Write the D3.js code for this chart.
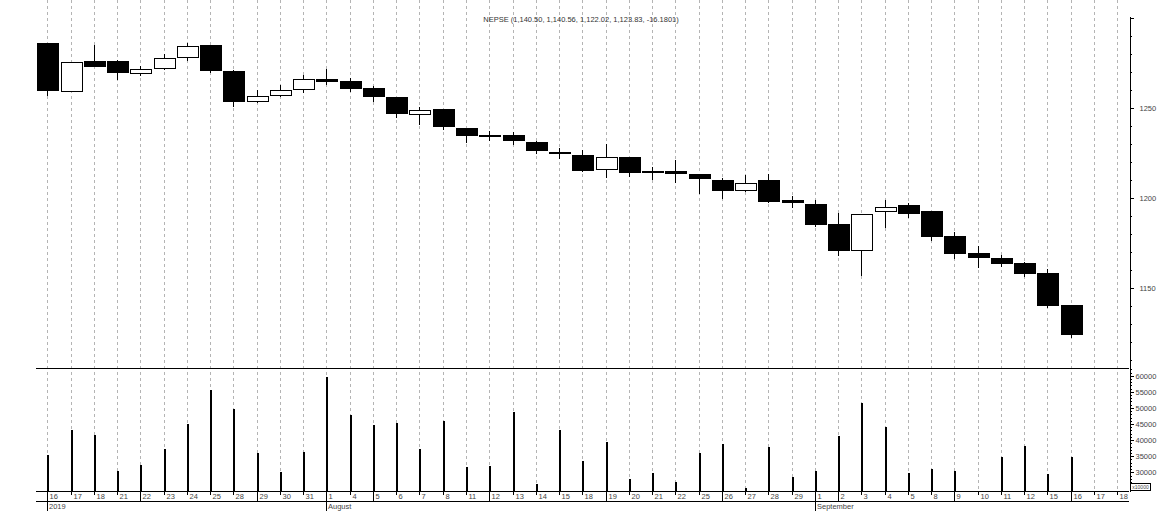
<!DOCTYPE html>
<html><head><meta charset="utf-8">
<script src="https://cdn.jsdelivr.net/npm/d3@7"></script>
<style>
body{margin:0;background:#fff;}
svg{display:block;}
text{font-family:"Liberation Sans",Arial,sans-serif;}
</style>
</head><body><svg id="c" width="1166" height="528"></svg>
<script>
const titleText = "NEPSE (1,140.50, 1,140.56, 1,122.02, 1,123.83, -16.1801)";
const dates = ["2019-07-16","2019-07-17","2019-07-18","2019-07-21","2019-07-22","2019-07-23","2019-07-24","2019-07-25","2019-07-28","2019-07-29","2019-07-30","2019-07-31",
"2019-08-01","2019-08-04","2019-08-05","2019-08-06","2019-08-07","2019-08-08","2019-08-11","2019-08-12","2019-08-13","2019-08-14","2019-08-15","2019-08-18","2019-08-19","2019-08-20","2019-08-21","2019-08-22","2019-08-25","2019-08-26","2019-08-27","2019-08-28","2019-08-29",
"2019-09-01","2019-09-02","2019-09-03","2019-09-04","2019-09-05","2019-09-08","2019-09-09","2019-09-10","2019-09-11","2019-09-12","2019-09-15","2019-09-16","2019-09-17","2019-09-18"];
const open  = [1285.9,1259.1,1276.1,1276.1,1269.1,1271.5,1277.9,1285.0,1270.6,1253.2,1256.5,1259.8,1266.1,1265.0,1261.1,1255.9,1245.9,1249.3,1238.7,1235.0,1235.0,1231.3,1225.7,1223.9,1215.4,1222.6,1215.2,1215.0,1213.2,1210.0,1203.7,1210.0,1198.9,1196.5,1185.4,1170.7,1192.4,1196.1,1192.8,1178.9,1169.4,1166.7,1163.9,1158.5,1140.50];
const high  = [1286.0,1275.5,1285.0,1276.7,1273.3,1280.0,1285.9,1285.0,1271.1,1260.0,1262.8,1268.3,1271.5,1266.7,1262.2,1256.0,1250.7,1249.5,1239.0,1237.2,1236.7,1231.5,1227.6,1226.7,1230.0,1223.0,1217.0,1221.1,1213.5,1210.9,1212.8,1213.3,1201.3,1198.9,1191.5,1191.0,1198.9,1197.0,1193.0,1180.9,1173.3,1168.3,1164.3,1160.6,1140.56];
const low   = [1256.8,1258.8,1272.8,1265.6,1268.0,1271.3,1276.3,1269.6,1250.7,1253.0,1256.3,1258.2,1262.8,1259.0,1253.5,1244.3,1240.6,1237.8,1230.4,1231.8,1229.4,1224.4,1221.5,1214.6,1210.9,1211.5,1210.0,1208.2,1202.2,1199.3,1203.5,1197.4,1194.6,1184.0,1167.9,1156.8,1183.5,1188.7,1176.1,1166.1,1161.3,1161.8,1156.3,1139.0,1122.02];
const close = [1259.4,1275.4,1273.0,1269.6,1271.5,1277.6,1284.4,1270.7,1253.5,1256.5,1259.8,1265.9,1264.6,1260.4,1255.9,1246.5,1248.7,1239.3,1234.3,1234.1,1231.8,1226.3,1224.8,1215.2,1222.6,1214.1,1214.3,1213.5,1210.4,1203.7,1208.2,1197.9,1197.0,1185.0,1170.7,1190.9,1195.0,1191.3,1178.5,1168.9,1166.8,1163.5,1157.9,1140.2,1123.83];
const volume = [35500,43200,41700,30500,32400,37300,45000,55600,49800,35900,30100,36400,
59500,47900,44800,45400,37300,45800,31600,32000,48700,26400,43100,33600,39500,27900,29800,26900,35900,38800,25100,37900,28400,
30500,41400,51600,44200,29700,31100,30500,23900,34800,38300,29500,34800];
const priceMajorTicks = [1150,1200,1250,1300];
const volMajorTicks = [25000,30000,35000,40000,45000,50000,55000,60000];
const multiplierText = "x10000";

const svg = d3.select("#c");
const parse = d3.timeParse("%Y-%m-%d");
const dObjs = dates.map(parse);

const x = d3.scaleBand().domain(dates).range([35.7, 1128.9]).padding(0);
const bw = x.bandwidth();
const cx = d => Math.round(x(d) + bw / 2);
const yP = d3.scaleLinear().domain([1105.6, 1301.1]).range([368, 16]);
const yV = d3.scaleLinear().domain([24190, 62400]).range([491, 368]);
const axisX = 1129;

// gridlines
svg.append("g").selectAll("line").data(dates).join("line")
  .attr("x1", d => cx(d) + 0.5).attr("x2", d => cx(d) + 0.5)
  .attr("y1", 0).attr("y2", 491)
  .attr("stroke", "#b4b4b4").attr("stroke-dasharray", "3,3").attr("shape-rendering", "crispEdges");

// panel lines
const hl = svg.append("g").attr("shape-rendering", "crispEdges");
[368.5, 491.5, 501.5].forEach(yy => hl.append("line").attr("x1", 35.7).attr("x2", axisX).attr("y1", yy).attr("y2", yy).attr("stroke", "#000"));

// candles
const candles = open.map((o, i) => ({d: dates[i], o, h: high[i], l: low[i], c: close[i]}));
const cg = svg.append("g").attr("shape-rendering", "crispEdges");
cg.selectAll("line").data(candles).join("line")
  .attr("x1", k => cx(k.d) + 0.5).attr("x2", k => cx(k.d) + 0.5)
  .attr("y1", k => yP(k.h)).attr("y2", k => yP(k.l)).attr("stroke", "#000");
const bodyW = 22;
cg.selectAll("rect").data(candles).join("rect")
  .each(function(k) {
    const top = Math.round(yP(Math.max(k.o, k.c)));
    const bot = Math.round(yP(Math.min(k.o, k.c)));
    const h = Math.max(2, bot - top);
    const x0 = cx(k.d) - 10;
    const r = d3.select(this);
    if (k.c < k.o) {
      r.attr("x", x0).attr("y", top).attr("width", bodyW).attr("height", h).attr("fill", "#000");
    } else {
      r.attr("x", x0 + 0.5).attr("y", top + 0.5).attr("width", bodyW - 1).attr("height", h - 1)
       .attr("fill", "#fff").attr("stroke", "#000");
    }
  });

// volume bars
svg.append("g").attr("shape-rendering", "crispEdges").selectAll("rect").data(volume).join("rect")
  .attr("x", (v, i) => cx(dates[i]) - 0.5).attr("width", 2)
  .attr("y", v => Math.min(491, yV(v)))
  .attr("height", v => Math.max(0, 491 - yV(v)))
  .attr("fill", "#000");

// right axes
const fontSize = "7.5px";
function styleAxis(g) {
  g.attr("shape-rendering", "crispEdges");
  g.selectAll("text").attr("fill", "#444").style("font-size", fontSize).style("font-family", "Liberation Sans, Arial, sans-serif");
  g.selectAll("path, line").attr("stroke", "#000");
}
const pMinor = d3.range(1110, 1301, 10);
svg.append("g").attr("transform", `translate(${axisX + 0.5},0)`)
  .call(d3.axisRight(yP).tickValues(pMinor).tickSize(2).tickSizeOuter(0).tickFormat(""))
  .call(styleAxis);
svg.append("g").attr("transform", `translate(${axisX + 0.5},0)`)
  .call(d3.axisRight(yP).tickValues(priceMajorTicks).tickSize(4).tickPadding(6).tickSizeOuter(0)
    .tickFormat(v => v >= 1300 ? "" : d3.format("d")(v)))
  .call(styleAxis).select(".domain").remove();

const vMinor = d3.range(25000, 62001, 1000);
svg.append("g").attr("transform", `translate(${axisX + 0.5},0)`)
  .call(d3.axisRight(yV).tickValues(vMinor).tickSize(2).tickSizeOuter(0).tickFormat(""))
  .call(styleAxis);
// lowest label is covered by the multiplier box in the reference
svg.append("g").attr("transform", `translate(${axisX + 0.5},0)`)
  .call(d3.axisRight(yV).tickValues(volMajorTicks).tickSize(4).tickPadding(2).tickSizeOuter(0)
    .tickFormat(v => v <= volMajorTicks[0] ? "" : d3.format("d")(v)))
  .call(styleAxis).select(".domain").remove();

// multiplier box
const mb = svg.append("g");
mb.append("rect").attr("x", 1130.5).attr("y", 483.5).attr("width", 20).attr("height", 7)
  .attr("fill", "#fff").attr("stroke", "#000").attr("shape-rendering", "crispEdges");
mb.append("text").attr("x", 1140.5).attr("y", 489).attr("text-anchor", "middle")
  .style("font-size", "5px").attr("fill", "#444").text(multiplierText);

// x axis labels
const xl = svg.append("g");
const fmtDay = d3.timeFormat("%-d");
const fmtMonth = d3.timeFormat("%B");
dates.forEach((d, i) => {
  const dt = dObjs[i];
  const px = cx(d) + 0.5;
  const newMonth = i === 0 || dt.getMonth() !== dObjs[i - 1].getMonth();
  const newWeek = dt.getDay() === 1 || i === 0;
  const y2 = newMonth ? 511 : (newWeek ? 501 : 495);
  xl.append("line").attr("x1", px).attr("x2", px).attr("y1", 491).attr("y2", y2)
    .attr("stroke", "#000").attr("shape-rendering", "crispEdges");
  xl.append("text").attr("x", px + 2).attr("y", 498.5).attr("fill", "#444")
    .style("font-size", fontSize).text(fmtDay(dt));
  if (newMonth) {
    xl.append("text").attr("x", px + 1.5).attr("y", 509).attr("fill", "#444")
      .style("font-size", fontSize).text(i === 0 ? d3.timeFormat("%Y")(dt) : fmtMonth(dt));
  }
});

// title
svg.append("text").attr("x", 581).attr("y", 22).attr("text-anchor", "middle")
  .attr("fill", "#333").style("font-size", fontSize).text(titleText);
</script>
</body></html>
